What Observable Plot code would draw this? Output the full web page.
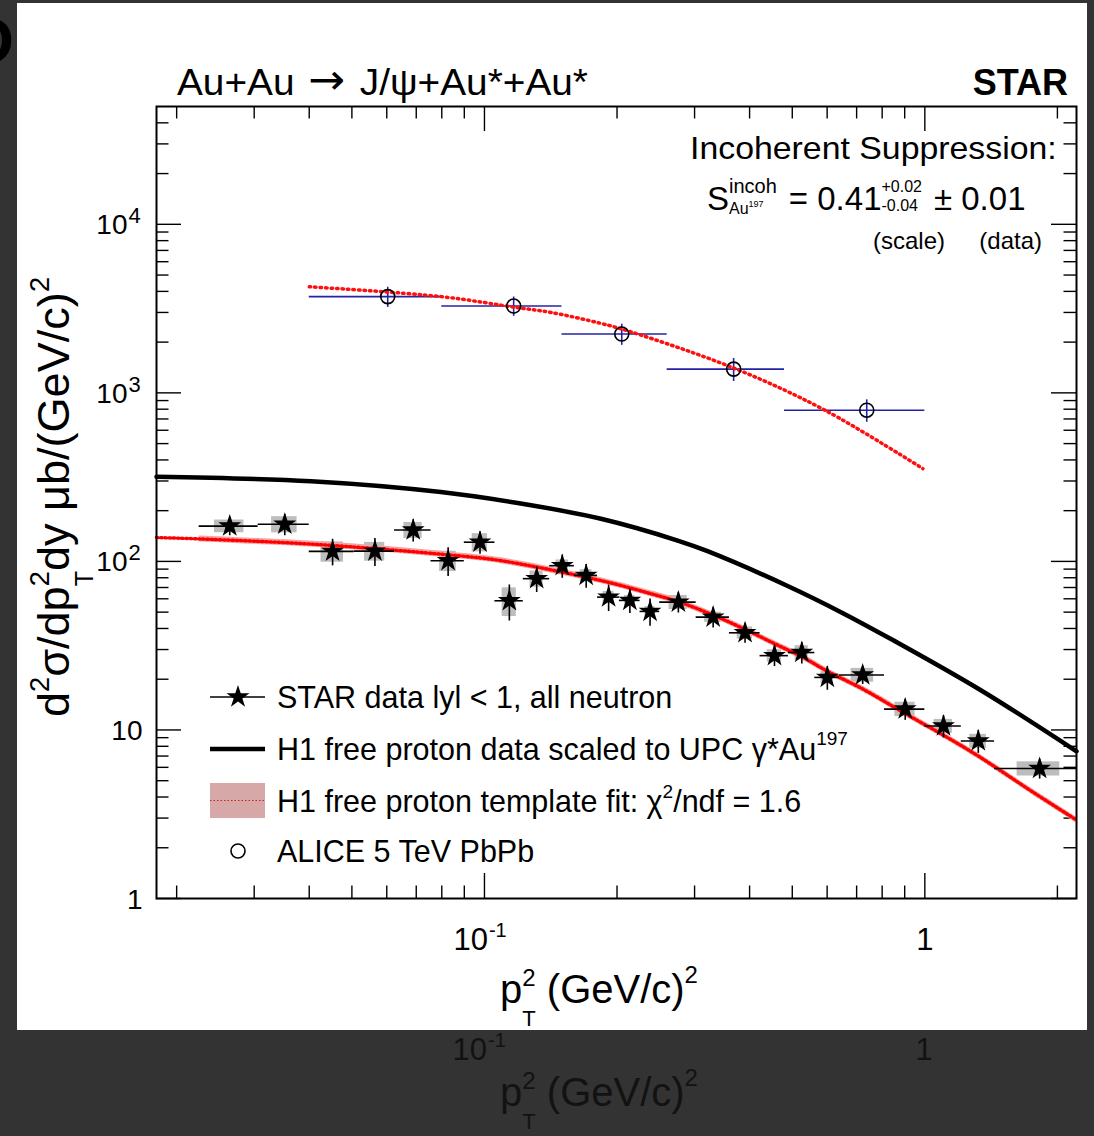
<!DOCTYPE html>
<html>
<head>
<meta charset="utf-8">
<script src="https://cdn.jsdelivr.net/npm/d3@7"></script>
<script src="https://cdn.jsdelivr.net/npm/@observablehq/plot@0.6"></script>
<style>
html,body{margin:0;padding:0;}
body{width:1094px;height:1136px;background:#333333;position:relative;overflow:hidden;font-family:"Liberation Sans",Arial,sans-serif;}
#bg{position:absolute;left:0;top:0;font-family:"Liberation Sans",Arial,sans-serif;}
#panel{position:absolute;left:17px;top:3px;width:1070px;height:1027px;background:#ffffff;}
#panel svg{display:block;}
</style>
</head>
<body>
<svg id="bg" width="1094" height="1136"></svg>
<div id="panel"></div>
<script>
// ---------------- data ----------------
// STAR |y|<1 all neutron: bins in pT^2 (GeV/c)^2
const starBinLo = [0.0225,0.030625,0.04,0.050625,0.0625,0.075625,0.09,0.105625,0.1225,0.140625,0.16,0.180625,0.2025,0.225625,0.25,0.3025,0.36,0.4225,0.49,0.5625,0.64,0.81,1.0,1.21,1.44];
const starBinHi = [0.030625,0.04,0.050625,0.0625,0.075625,0.09,0.105625,0.1225,0.140625,0.16,0.180625,0.2025,0.225625,0.25,0.3025,0.36,0.4225,0.49,0.5625,0.64,0.81,1.0,1.21,1.44,2.25];
const starX = [0.0264,0.0352,0.0452,0.0564,0.0689,0.0827,0.0977,0.1139,0.1314,0.1502,0.1702,0.1914,0.2139,0.2377,0.2756,0.3306,0.3906,0.4556,0.5256,0.6006,0.7225,0.9025,1.1025,1.3225,1.8225];
const starY = [162,166,114.7,115,153.5,101,130,58.4,79,94.3,82.6,61.4,58.7,50.5,57.3,46.7,37.7,27.6,28.8,20.5,21.2,13.3,10.55,8.6,5.9];
const starStat = [20,24,20.6,21.7,23.2,19.5,19.7,14.1,13.6,14.9,13.3,11,9.7,9.3,7.9,6.4,5,3.8,4.2,3.3,2.6,1.9,1.6,1.34,0.79];
const starSys = [14,18.2,15.8,14.7,16.8,13.9,16.1,11.3,8.7,7.7,6.8,5,4,3.5,5.5,3.2,3.1,2.3,2.8,1.7,2,1.3,1,0.82,0.57];

// ALICE 5 TeV PbPb
const aliceX = [0.0603,0.1165,0.205,0.368,0.738];
const aliceLo = [0.04,0.08,0.15,0.26,0.48];
const aliceHi = [0.08,0.15,0.26,0.48,1.0];
const aliceY = [3724,3274,2234,1383,789];
const aliceErr = [510,430,320,215,120];

// H1 free proton data scaled to UPC gamma*Au197 (solid black)
const h1X = [0.018,0.0404,0.0796,0.119,0.1838,0.2746,0.321,0.488,0.645,0.85,1.34,2.21];
const h1Y = [318,299,258,222,179,133,115,71.5,50,33.9,17.2,7.47];

// H1 free proton template fit to STAR (red dotted + band)
const fitX = [0.018,0.0225,0.0418,0.0839,0.109,0.1838,0.2388,0.2765,0.3306,0.3906,0.4556,0.5256,0.6006,0.7225,0.9025,1.1025,1.3225,1.74,2.21];
const fitY = [138.5,136,126,109,101,77,64.3,57.5,48,39.5,32.5,27.2,22.3,17.5,12.5,9.3,7.0,4.36,2.92];
const fitBandRel = 0.04;
const fitBandFrom = 0.0225;

// template scaled to ALICE (red dotted, upper)
const aliceFitX = [0.04,0.0797,0.119,0.1415,0.1838,0.2148,0.37,0.593,0.99];
const aliceFitY = [4260,3724,3200,3000,2583,2303,1396,789,355];

// axis ticks
const yTickMajor = [1,10,100,1000,10000];
const xTickMajor = [0.1,1];
const yDomain = [1,5e4];
const xDomain = [0.018,2.21];

// ---------------- tables ----------------
const star = starX.map((x,i)=>({x, lo:starBinLo[i], hi:starBinHi[i], y:starY[i], stat:starStat[i], sys:starSys[i]}));
const alice = aliceX.map((x,i)=>({x, lo:aliceLo[i], hi:aliceHi[i], y:aliceY[i], err:aliceErr[i]}));
const h1 = h1X.map((x,i)=>({x, y:h1Y[i]}));
const fit = fitX.map((x,i)=>({x, y:fitY[i]}));
const fitBand = fit.filter(d => d.x >= fitBandFrom);
const aliceFit = aliceFitX.map((x,i)=>({x, y:aliceFitY[i]}));

const yMinor = [];
for (let e = 0; e < 5; e++) for (let k = 2; k <= 9; k++) { const v = k * 10 ** e; if (v < yDomain[1]) yMinor.push(v); }
const xMinor = [];
[0.01,0.1,1].forEach(b => { for (let k = 2; k <= 9; k++) { const v = +(k*b).toPrecision(3); if (v > xDomain[0] && v < xDomain[1]) xMinor.push(v); } });

// ---------------- layout ----------------
const PX = 17, PY = 3, W = 1070, H = 1027;
const FL = 156, FT = 106, FR = 1076, FB = 898;
const fw = FR - FL, fh = FB - FT;
const MAJ = 25, MIN = 12.5;
const font = "Liberation Sans, Arial, sans-serif";
const blue = "#2323a3";
const starR = 7.2;

const chart = Plot.plot({
  width: W, height: H,
  marginLeft: FL - PX, marginTop: FT - PY, marginRight: PX + W - FR, marginBottom: PY + H - FB,
  x: {type: "log", domain: xDomain, axis: null},
  y: {type: "log", domain: yDomain, axis: null},
  style: {fontFamily: font, background: "white", overflow: "visible"},
  marks: [
    // ticks inside the frame
    Plot.ruleY(yTickMajor, {insetRight: fw - MAJ, stroke: "black", strokeWidth: 1.4}),
    Plot.ruleY(yTickMajor, {insetLeft: fw - MAJ, stroke: "black", strokeWidth: 1.4}),
    Plot.ruleY(yMinor, {insetRight: fw - MIN, stroke: "black", strokeWidth: 1.4}),
    Plot.ruleY(yMinor, {insetLeft: fw - MIN, stroke: "black", strokeWidth: 1.4}),
    Plot.ruleX(xTickMajor, {insetTop: fh - MAJ, stroke: "black", strokeWidth: 1.4}),
    Plot.ruleX(xTickMajor, {insetBottom: fh - MAJ, stroke: "black", strokeWidth: 1.4}),
    Plot.ruleX(xMinor, {insetTop: fh - MIN, stroke: "black", strokeWidth: 1.4}),
    Plot.ruleX(xMinor, {insetBottom: fh - MIN, stroke: "black", strokeWidth: 1.4}),
    // STAR systematic boxes
    Plot.rect(star, {x1: d => d.x - (d.hi - d.lo) / 4, x2: d => d.x + (d.hi - d.lo) / 4, y1: d => d.y - d.sys, y2: d => d.y + d.sys, fill: "#bdbdbd"}),
    // template fit band + dotted line
    Plot.areaY(fitBand, {x: "x", y1: d => d.y * (1 - fitBandRel), y2: d => d.y * (1 + fitBandRel), fill: "#f3a3a3", curve: "catmull-rom"}),
    Plot.line(fit, {x: "x", y: "y", stroke: "#ff0000", strokeWidth: 3.4, strokeDasharray: "1.6,2.6", curve: "catmull-rom"}),
    // H1 scaled (solid black)
    Plot.line(h1, {x: "x", y: "y", stroke: "black", strokeWidth: 4.5, curve: "catmull-rom"}),
    // ALICE
    Plot.ruleY(alice, {y: "y", x1: "lo", x2: "hi", stroke: blue, strokeWidth: 1.6}),
    Plot.ruleX(alice, {x: "x", y1: d => d.y - d.err, y2: d => d.y + d.err, stroke: blue, strokeWidth: 1.6}),
    Plot.line(aliceFit, {x: "x", y: "y", stroke: "#ff1010", strokeWidth: 3.5, strokeDasharray: "1.5,4", curve: "catmull-rom"}),
    Plot.dot(alice, {x: "x", y: "y", r: 7, stroke: "black", strokeWidth: 1.6, fill: "none"}),
    // STAR error bars + markers
    Plot.ruleY(star, {y: "y", x1: "lo", x2: "hi", stroke: "black", strokeWidth: 1.6, clip: true}),
    Plot.ruleX(star, {x: "x", y1: d => d.y - d.stat, y2: d => d.y + d.stat, stroke: "black", strokeWidth: 1.6}),
    Plot.dot(star, {x: "x", y: "y", symbol: "star", r: starR, fill: "black", stroke: "none"}),
    // tick labels
    Plot.text(yTickMajor.filter(v => v >= 100), {y: d => d, frameAnchor: "left", text: () => "10", textAnchor: "end", lineAnchor: "bottom", dx: 127 - FL, dy: 10, fontSize: 28}),
    Plot.text(yTickMajor.filter(v => v >= 100), {y: d => d, frameAnchor: "left", text: d => String(Math.round(Math.log10(d))), textAnchor: "start", lineAnchor: "bottom", dx: 128 - FL, dy: -1, fontSize: 22}),
    Plot.text(yTickMajor.filter(v => v < 100), {y: d => d, frameAnchor: "left", text: d => String(d), textAnchor: "end", lineAnchor: "bottom", dx: 142 - FL, dy: 10, fontSize: 28}),
    Plot.text(xTickMajor.filter(v => v < 1), {x: d => d, frameAnchor: "bottom", text: () => "10", textAnchor: "end", lineAnchor: "bottom", dx: 3.5, dy: 949 - FB, fontSize: 31}),
    Plot.text(xTickMajor.filter(v => v < 1), {x: d => d, frameAnchor: "bottom", text: d => String(Math.round(Math.log10(d))), textAnchor: "start", lineAnchor: "bottom", dx: 4.5, dy: 936 - FB, fontSize: 20}),
    Plot.text(xTickMajor.filter(v => v >= 1), {x: d => d, frameAnchor: "bottom", text: d => String(d), textAnchor: "middle", lineAnchor: "bottom", dy: 949 - FB, fontSize: 31}),
    Plot.frame({stroke: "black", strokeWidth: 2})
  ]
});
document.getElementById("panel").appendChild(chart);

// ---------------- rich text helper (sup/sub flow) ----------------
function rich(parent, x, y, pieces, o = {}) {
  const outer = parent.append("g").attr("transform", `translate(${x},${y})` + (o.rotate ? ` rotate(${o.rotate})` : ""));
  const inner = outer.append("g");
  let cx = 0, baseStart = 0, prevEnd = 0;
  for (const p of pieces) {
    const t = inner.append("text")
      .attr("font-family", p.f || font)
      .attr("font-size", p.s)
      .attr("font-weight", p.b ? "bold" : "normal")
      .attr("text-anchor", "start")
      .attr("y", p.dy || 0)
      .attr("fill", o.fill || "#000")
      .style("white-space", "pre")
      .text(p.t);
    const w = t.node().getComputedTextLength();
    let sx;
    if (p.stack) sx = baseStart;
    else if (p.follow) sx = prevEnd;
    else { sx = cx + (p.gap || 0); baseStart = sx; }
    t.attr("x", sx);
    prevEnd = sx + w;
    cx = Math.max(cx, prevEnd);
  }
  const total = cx;
  const k = o.width ? o.width / total : (o.sx || 1);
  const shift = o.anchor === "end" ? -total : o.anchor === "middle" ? -total / 2 : 0;
  inner.attr("transform", `scale(${k},1) translate(${shift},0)`);
  return outer;
}

const svg = d3.select(chart);
const L = (px) => px - PX, T = (py) => py - PY;

// title line
rich(svg, L(177), T(95), [
  {t: "Au+Au", s: 37},
  {t: "\u2192", s: 42, f: "DejaVu Sans", gap: 13, dy: -1},
  {t: "J/\u03c8+Au*+Au*", s: 37, gap: 14}
], {width: 411});
rich(svg, L(1068), T(95), [{t: "STAR", s: 36, b: true}], {anchor: "end"});

// suppression annotation
rich(svg, L(1057), T(159), [{t: "Incoherent Suppression:", s: 31}], {anchor: "end", width: 367});
rich(svg, L(707), T(210), [
  {t: "S", s: 33},
  {t: "incoh", s: 20, dy: -17},
  {t: "Au", s: 16, dy: 4, stack: true},
  {t: "197", s: 9, dy: -3, follow: true},
  {t: "= 0.41", s: 33, gap: 12},
  {t: "+0.02", s: 16, dy: -18},
  {t: "-0.04", s: 16, dy: 1, stack: true},
  {t: "\u00b1 0.01", s: 33, gap: 12}
]);
rich(svg, L(873), T(249), [{t: "(scale)", s: 24}]);
rich(svg, L(1042), T(249), [{t: "(data)", s: 24}], {anchor: "end"});

// axis titles
rich(svg, L(500), T(1003), [
  {t: "p", s: 40},
  {t: "2", s: 24, dy: -17},
  {t: "T", s: 22, dy: 23, stack: true},
  {t: " (GeV/c)", s: 40},
  {t: "2", s: 24, dy: -20}
]);
rich(svg, L(69), T(717), [
  {t: "d", s: 45},
  {t: "2", s: 27, dy: -20},
  {t: "\u03c3/dp", s: 45},
  {t: "2", s: 27, dy: -20},
  {t: "T", s: 25, dy: 24, stack: true},
  {t: "dy \u03bcb/(GeV/c)", s: 45},
  {t: "2", s: 27, dy: -20}
], {rotate: -90, width: 440});

// legend
const leg = svg.append("g");
leg.append("line").attr("x1", L(210)).attr("x2", L(265)).attr("y1", T(697)).attr("y2", T(697)).attr("stroke", "black").attr("stroke-width", 1.6);
leg.append("path").attr("d", d3.symbol(d3.symbolStar, Math.PI * starR * starR)()).attr("transform", `translate(${L(238)},${T(697)})`).attr("fill", "black");
leg.append("line").attr("x1", L(210)).attr("x2", L(265)).attr("y1", T(749)).attr("y2", T(749)).attr("stroke", "black").attr("stroke-width", 4.5);
leg.append("rect").attr("x", L(210)).attr("y", T(783)).attr("width", 55).attr("height", 35).attr("fill", "#d6a8a8");
leg.append("line").attr("x1", L(210)).attr("x2", L(265)).attr("y1", T(800.5)).attr("y2", T(800.5)).attr("stroke", "#c82020").attr("stroke-width", 1).attr("stroke-dasharray", "1.5,2");
leg.append("circle").attr("cx", L(238)).attr("cy", T(851)).attr("r", 7).attr("fill", "none").attr("stroke", "black").attr("stroke-width", 1.6);
rich(svg, L(277), T(708), [{t: "STAR data lyl < 1, all neutron", s: 30.5}]);
rich(svg, L(277), T(760), [{t: "H1 free proton data scaled to UPC \u03b3*Au", s: 30.5}, {t: "197", s: 19, dy: -15}]);
rich(svg, L(277), T(812), [{t: "H1 free proton template fit: \u03c7", s: 30.5}, {t: "2", s: 19, dy: -14}, {t: "/ndf = 1.6", s: 30.5}]);
rich(svg, L(277), T(862), [{t: "ALICE 5 TeV PbPb", s: 30.5}]);

// ---------------- background: ghost copy of the axis labels ----------------
const bg = d3.select("#bg");
const ghost = "#121212";
rich(bg, 0, 0, [{t: "D", s: 64, b: true}], {anchor: "end"}).attr("transform", "translate(14,63)");
rich(bg, 487, 1060, [{t: "10", s: 31}], {anchor: "end", fill: ghost});
rich(bg, 488, 1047, [{t: "-1", s: 20}], {fill: ghost});
rich(bg, 924, 1060, [{t: "1", s: 31}], {anchor: "middle", fill: ghost});
rich(bg, 500, 1106, [
  {t: "p", s: 40},
  {t: "2", s: 24, dy: -17},
  {t: "T", s: 22, dy: 23, stack: true},
  {t: " (GeV/c)", s: 40},
  {t: "2", s: 24, dy: -20}
], {fill: ghost});
</script>
</body>
</html>
